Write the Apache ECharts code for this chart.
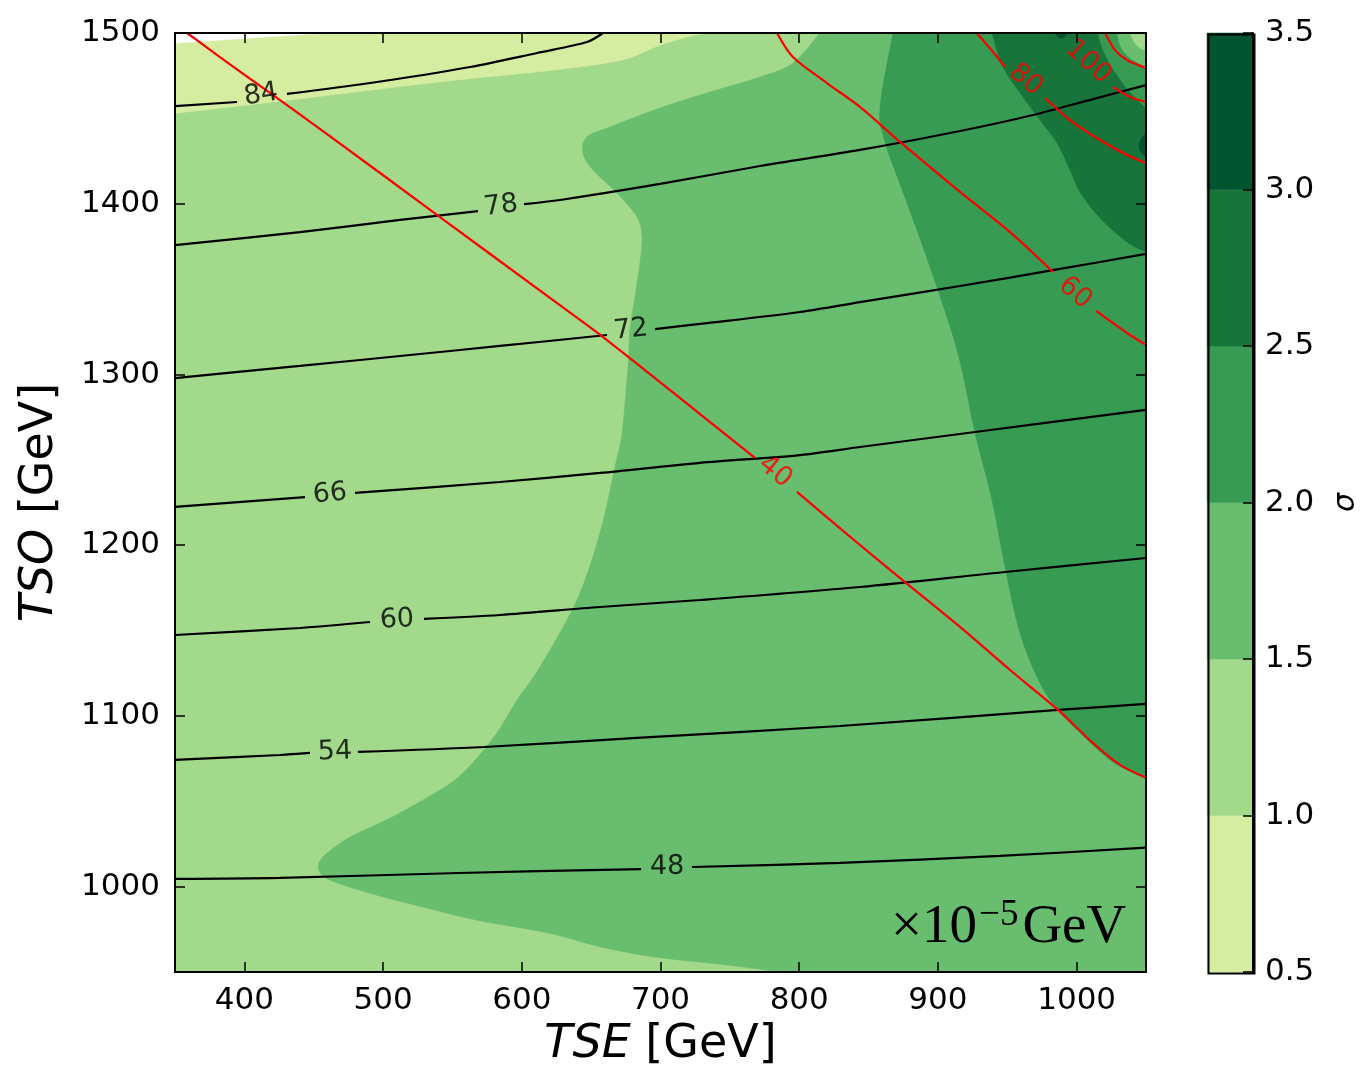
<!DOCTYPE html>
<html><head><meta charset="utf-8">
<script src="https://cdn.jsdelivr.net/npm/echarts@6/dist/echarts.min.js"></script>
<style>html,body{margin:0;padding:0;background:#fff}#c{width:1362px;height:1070px}</style>
</head><body><div id="c"></div>
<script>
// ---- axes ----
const xTicks = [400, 500, 600, 700, 800, 900, 1000];
const yTicks = [1000, 1100, 1200, 1300, 1400, 1500];
const sigmaLevels = [0.5, 1.0, 1.5, 2.0, 2.5, 3.0, 3.5];
const levelColors = ['#d5eda0', '#a2d98b', '#68bd6f', '#389b53', '#17753c', '#00542f'];
const X_MIN = 350, X_MAX = 1050, Y_MIN = 950, Y_MAX = 1500;

// ---- filled sigma regions (TSE, TSO boundary points in GeV) ----
const regionBase = [[350, 950], [1050, 950], [1050, 1500], [350, 1500]];            // 1.0-1.5
const regionLight = [[350, 1500], [350, 1453], [404, 1458], [476, 1465], [548, 1472], [620, 1478], [671, 1484], [700, 1493], [721, 1498], [734, 1500]]; // 0.5-1.0
const regionWhite = [[350, 1500], [350, 1494], [385, 1496], [440, 1499], [465, 1500]]; // <0.5
const regionMid = [[815, 1500], [795.5, 1482.4], [771.8, 1474.2], [735.7, 1465.4], [699.7, 1456.1], [663.6, 1444.9], [647, 1439.1], [644.1, 1429.7], [651.3, 1419.8], [668.7, 1406.3], [683.1, 1392.2], [686.7, 1380.5], [685.2, 1365.3], [681.6, 1345.4], [678, 1326], [676.6, 1304.4], [672.3, 1265.7], [667.2, 1245.8], [656.4, 1207.1], [639.8, 1167.9], [613.1, 1128.7], [596.6, 1109.3], [580, 1087.7], [554.7, 1064.4], [528.8, 1050.8], [502.8, 1039.2], [476.9, 1029.3], [456.7, 1017.4], [453.8, 1009.8], [461.7, 1003.9], [489.9, 996.3], [528.8, 988.1], [567, 980.5], [618.9, 972.9], [657.1, 964.7], [696, 958.8], [747.2, 954.2], [786.2, 950], [1050, 950], [1050, 1500]]; // 1.5-2.0
const regionHigh = [[867.6, 1500], [858.3, 1456.1], [861.9, 1436.2], [874.8, 1406.9], [892.1, 1368.2], [913.8, 1314.3], [926.8, 1265.7], [939, 1226.5], [948.4, 1187.2], [959.2, 1148.6], [973.6, 1119.3], [986.6, 1103.5], [1002.4, 1090], [1024.1, 1074.2], [1040.7, 1066.6], [1050, 1063.8], [1050, 1500]]; // 2.0-2.5
const regionHigher = [[939, 1500], [946.9, 1480.1], [961.4, 1462.5], [973.6, 1449], [985.9, 1435.6], [995.2, 1419.8], [1002.4, 1406.9], [1016.9, 1391.6], [1036.3, 1377.6], [1050, 1371.7], [1050, 1500]]; // 2.5-3.0
const ringOuter = [[1015.4, 1500], [1019.7, 1488.9], [1027.7, 1477.2], [1038.5, 1465.4], [1050, 1456.1], [1050, 1500]]; // 2.0-2.5
const ringMiddle = [[1029.1, 1500], [1032, 1491.8], [1038.5, 1485.4], [1050, 1480.1], [1050, 1500]];          // 1.5-2.0
const ringInner = [[1038.5, 1500], [1041.4, 1494.7], [1045.7, 1491.2], [1050, 1490], [1050, 1500]];           // 1.0-1.5
const blobEdge = [[1050, 1441.4], [1046.4, 1437.9], [1045, 1433.8], [1046.4, 1430.3], [1050, 1427.4]];        // 3.0-3.5
const blobTop = [[984.4, 1500], [986.6, 1497.7], [990.2, 1497.1], [993.1, 1500]];                              // 3.0-3.5

// ---- black contour lines (split where the inline label sits) ----
const c84 = [[[350, 1457.2], [394.7, 1459.6]], [[430.7, 1464.3], [490.6, 1470.7], [562.7, 1480.1], [611, 1488.3], [647, 1494.7], [658.6, 1500]]];
const c78 = [[[350, 1375.8], [440.1, 1383.4], [512.2, 1390.5], [568.4, 1395.7]], [[601.6, 1399.8], [627.6, 1402.2], [699.7, 1411.6], [771.8, 1422.1], [843.8, 1431.5], [915.9, 1442.6], [968.6, 1452], [1011.8, 1461.3], [1050, 1469.5]]];
const c72 = [[[350, 1297.9], [440.1, 1305], [512.2, 1310.8], [584.3, 1316.7], [661.4, 1323.1]], [[696, 1326.6], [728.5, 1329.6], [800.6, 1336.6], [843.8, 1342.4], [915.9, 1351.8], [988, 1361.8], [1050, 1370.6]]];
const c66 = [[[350, 1222.4], [443.7, 1228.2]], [[479.8, 1230.6], [584.3, 1237], [656.4, 1242.3], [728.5, 1248.2], [800.6, 1252.8], [843.8, 1257.5], [926.8, 1266.3], [1050, 1279.2]]];
const c60 = [[[350, 1147.4], [440.1, 1151.5], [490.6, 1155]], [[529.5, 1156.8], [584.3, 1159.1], [656.4, 1163.8], [728.5, 1167.9], [843.8, 1175.5], [948.4, 1184.3], [1050, 1192.5]]];
const c54 = [[[350, 1074.2], [425.7, 1077.1], [447.3, 1078.3]], [[481.9, 1078.9], [572.8, 1081.8], [683.1, 1087.1], [829.4, 1094.1], [986.6, 1103.5], [1050, 1107]]];
const c48 = [[[350, 1004.5], [425.7, 1005.1], [554.7, 1008], [686, 1010.3]], [[722.7, 1011.5], [829.4, 1013.9], [944.8, 1018], [1050, 1022.8]]];

// ---- red contour lines ----
const r40 = [[[358.7, 1500], [382.4, 1485.9], [413.4, 1467.8], [459.6, 1440.8], [541, 1392.2], [620.3, 1344.8], [658.6, 1321.9], [728.5, 1276.8], [768.1, 1251.1]], [[798.4, 1231.2], [843.8, 1200.1], [876.3, 1178.4], [915.9, 1152.1], [952, 1126.9], [986.6, 1103.5], [1011.8, 1084.1], [1031.3, 1071.3], [1050, 1063.8]]];
const r60 = [[[784, 1500], [795.5, 1485.9], [820, 1470.7], [843.8, 1456.7], [872.7, 1436.2], [915.9, 1406.9], [952, 1383.4], [983, 1360]], [[1014, 1337.2], [1036.3, 1324.3], [1050, 1317.3]]];
const r80 = [[[928, 1500], [939.7, 1488.9], [948.4, 1480.1]], [[977.2, 1461.9], [995.2, 1449], [1016.9, 1437.3], [1036.3, 1428.6], [1050, 1423.9]]];
const r100 = [[[1026.2, 1468.4], [1038.5, 1462.5], [1050, 1459.6]]];
const r120 = [[[1020.5, 1500], [1027.7, 1490], [1036.3, 1484.2], [1050, 1479.5]]];

// ---- contour labels [TSE, TSO, value] ----
const blackLabels = [[412, 1463.7, 84], [585, 1398.7, 78], [678.7, 1326, 72], [461.7, 1230, 66], [510, 1156.2, 60], [465.3, 1078.9, 54], [704.7, 1011.5, 48]];
const redLabels = [[782.6, 1242.9, 40], [998.8, 1347.7, 60], [963.3, 1472.5, 80], [1008.2, 1483, 100]];
const blackLabelAngles = [9, 7, 6, 5, 3, 2, 1];
const redLabelAngles = [-39, -40, -40, -42];

const FONT = 'DejaVu Sans';

function onFrame(p) {
  return p[0] === X_MIN || p[0] === X_MAX || p[1] === Y_MIN || p[1] === Y_MAX;
}
// closed path: straight along the frame, Catmull-Rom curves for interior boundary
function buildPath(pts, pix) {
  const n = pix.length;
  const edge = pts.map(onFrame);
  const f = v => v[0].toFixed(2) + ' ' + v[1].toFixed(2);
  let d = 'M' + f(pix[0]);
  for (let i = 0; i < n; i++) {
    const a = i, b = (i + 1) % n, pa = (i - 1 + n) % n, nb = (i + 2) % n;
    if (edge[a] && edge[b]) { d += ' L' + f(pix[b]); continue; }
    const p0 = (edge[a] && edge[pa]) ? pix[a] : pix[pa];
    const p3 = (edge[b] && edge[nb]) ? pix[b] : pix[nb];
    const c1 = [pix[a][0] + (pix[b][0] - p0[0]) / 6, pix[a][1] + (pix[b][1] - p0[1]) / 6];
    const c2 = [pix[b][0] - (p3[0] - pix[a][0]) / 6, pix[b][1] - (p3[1] - pix[a][1]) / 6];
    d += ' C' + f(c1) + ' ' + f(c2) + ' ' + f(pix[b]);
  }
  return d + ' Z';
}

function polySeries(points, color) {
  return {
    type: 'custom', coordinateSystem: 'cartesian2d', xAxisIndex: 0, yAxisIndex: 0,
    z: 1, clip: true, silent: true, animation: false,
    data: points,
    renderItem: function (params, api) {
      if (params.dataIndex !== 0) return null;
      const pix = points.map(p => api.coord(p));
      return { type: 'path', shape: { pathData: buildPath(points, pix) }, style: { fill: color, stroke: color, lineWidth: 0.6 } };
    }
  };
}
function lineSeries(parts, color, w) {
  return parts.map(seg => ({
    type: 'line', xAxisIndex: 0, yAxisIndex: 0, data: seg, showSymbol: false, symbol: 'none',
    smooth: 0.3, z: 3, silent: true, animation: false,
    lineStyle: { color: color, width: w }
  }));
}
function labelSeries(items, angles, color) {
  return {
    type: 'scatter', xAxisIndex: 0, yAxisIndex: 0, symbolSize: 0, z: 4, silent: true, animation: false,
    data: items.map((d, i) => ({ value: d, label: { rotate: angles[i] } })),
    label: {
      show: true, position: 'inside', color: color, fontFamily: FONT, fontSize: 27,
      formatter: p => String(p.value[2])
    }
  };
}

const series = [];
series.push(polySeries(regionBase, levelColors[1]));
series.push(polySeries(regionLight, levelColors[0]));
series.push(polySeries(regionWhite, '#ffffff'));
series.push(polySeries(regionMid, levelColors[2]));
series.push(polySeries(regionHigh, levelColors[3]));
series.push(polySeries(regionHigher, levelColors[4]));
series.push(polySeries(ringOuter, levelColors[3]));
series.push(polySeries(ringMiddle, levelColors[2]));
series.push(polySeries(ringInner, levelColors[1]));
series.push(polySeries(blobEdge, levelColors[5]));
series.push(polySeries(blobTop, levelColors[5]));
[c84, c78, c72, c66, c60, c54, c48].forEach(c => series.push(...lineSeries(c, '#000000', 2.2)));
[r40, r60, r80, r100, r120].forEach(c => series.push(...lineSeries(c, '#ff0000', 2.2)));
series.push(labelSeries(blackLabels, blackLabelAngles, '#000000'));
series.push(labelSeries(redLabels, redLabelAngles, '#ff0000'));

// colorbar cells
const cbCells = sigmaLevels.slice(0, -1).map((lo, i) => [lo, sigmaLevels[i + 1], i]);
series.push({
  type: 'custom', coordinateSystem: 'cartesian2d', xAxisIndex: 2, yAxisIndex: 2, z: 1, silent: true, animation: false,
  data: cbCells,
  renderItem: function (params, api) {
    const lo = api.value(0), hi = api.value(1), idx = api.value(2);
    const p0 = api.coord([0, lo]), p1 = api.coord([1, hi]);
    return { type: 'rect', shape: { x: p0[0], y: p1[1], width: p1[0] - p0[0], height: p0[1] - p1[1] },
      style: { fill: levelColors[idx], stroke: levelColors[idx], lineWidth: 0.5 } };
  }
});

const tickStyle = { inside: true, length: 10, lineStyle: { color: '#000', width: 1.5 } };
const axisLineStyle = { show: true, onZero: false, lineStyle: { color: '#000', width: 2 } };
const labelStyle = { color: '#000', fontFamily: FONT, fontSize: 31 };
const titleRich = { fontFamily: FONT, fontSize: 46, color: '#000', rich: { i: { fontFamily: FONT, fontSize: 46, fontStyle: 'italic', color: '#000' } } };

const option = {
  backgroundColor: '#ffffff',
  animation: false,
  grid: [
    { left: 175, top: 33, width: 971, height: 939, outerBoundsMode: 'none', containLabel: false },
    { left: 1207, top: 33, width: 46, height: 939, outerBoundsMode: 'none', containLabel: false }
  ],
  xAxis: [
    { gridIndex: 0, type: 'value', min: X_MIN, max: X_MAX, position: 'bottom', z: 10,
      axisLine: axisLineStyle, splitLine: { show: false },
      axisTick: Object.assign({ customValues: xTicks }, tickStyle),
      axisLabel: Object.assign({ customValues: xTicks, margin: 13, formatter: v => String(v) }, labelStyle),
      name: '{i|TSE} [GeV]', nameLocation: 'middle', nameGap: 50, nameTextStyle: titleRich },
    { gridIndex: 0, type: 'value', min: X_MIN, max: X_MAX, position: 'top', z: 10,
      axisLine: axisLineStyle, splitLine: { show: false },
      axisTick: Object.assign({ customValues: xTicks }, tickStyle), axisLabel: { show: false } },
    { gridIndex: 1, type: 'value', min: 0, max: 1, show: false, axisLine: { onZero: false } }
  ],
  yAxis: [
    { gridIndex: 0, type: 'value', min: Y_MIN, max: Y_MAX, position: 'left', z: 10,
      axisLine: axisLineStyle, splitLine: { show: false },
      axisTick: Object.assign({ customValues: yTicks }, tickStyle),
      axisLabel: Object.assign({ customValues: yTicks, margin: 15, formatter: v => String(v) }, labelStyle),
      name: '{i|TSO} [GeV]', nameLocation: 'middle', nameGap: 112, nameRotate: 90, nameTextStyle: titleRich },
    { gridIndex: 0, type: 'value', min: Y_MIN, max: Y_MAX, position: 'right', z: 10,
      axisLine: axisLineStyle, splitLine: { show: false },
      axisTick: Object.assign({ customValues: yTicks }, tickStyle), axisLabel: { show: false } },
    { gridIndex: 1, type: 'value', min: 0.5, max: 3.5, interval: 0.5, position: 'right', z: 10,
      axisLine: axisLineStyle, splitLine: { show: false },
      axisTick: tickStyle,
      axisLabel: Object.assign({ margin: 12, showMinLabel: true, showMaxLabel: true, formatter: v => v.toFixed(1) }, labelStyle),
      name: 'σ', nameLocation: 'middle', nameGap: 78, nameRotate: 90,
      nameTextStyle: { fontFamily: FONT, fontSize: 30, fontStyle: 'italic', color: '#000' } }
  ],
  graphic: [
    { type: 'rect', left: 1206, top: 32, z: 20, silent: true,
      shape: { width: 46, height: 939 }, style: { fill: 'none', stroke: '#000', lineWidth: 2 } },
    { type: 'text', left: 891, top: 897, z: 20, silent: true,
      style: {
        text: '{a|×10}{s|−5}{a|GeV}',
        rich: {
          a: { fontFamily: 'Liberation Serif', fontSize: 55, color: '#000', verticalAlign: 'bottom', lineHeight: 58 },
          s: { fontFamily: 'Liberation Serif', fontSize: 37, color: '#000', verticalAlign: 'top', lineHeight: 58, padding: [0, 4, 0, 2] }
        }
      } }
  ],
  series: series
};

const chart = echarts.init(document.getElementById('c'), null, { renderer: 'canvas' });
chart.setOption(option);
</script>
</body></html>
